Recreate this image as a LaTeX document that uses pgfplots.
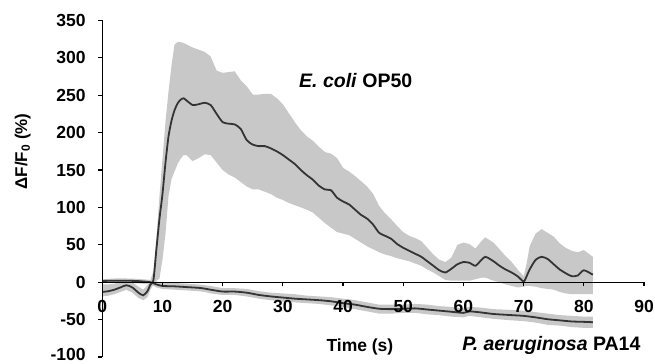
\documentclass[border=0pt]{standalone}
\usepackage{fontspec}
\setmainfont{Liberation Sans}
\usepackage{pgfplots}
\pgfplotsset{compat=1.18}
\usepackage{pgfplotstable}
\definecolor{bandgray}{RGB}{200,200,200}
\definecolor{linegray}{RGB}{52,52,52}

% E. coli mean
\pgfplotstableread{
t m
0 -13
1 -12
2 -10
3 -7
4 -4
5 -7
6 -14
6.8 -17.5
7.5 -12
8 -3
8.5 3
9 45
9.5 85
10 118
10.5 160
11 195
11.5 216
12 230
12.5 239
13 244
13.5 246
14 243
15 237
16 238
17 240
18 237
19 225
20 214
21 212
22 211
23 205
24 190
25 184
26 182
27 182
28 179
29 175
30 170
31 164
32 158
33 150
34 143
35 137
36 129
37 124
38 123
39 113
40 108
41 104
42 97
43 90
44 85
45 77
46 66
47 62
48 58
49 51
50 46
51 42
52 38
53 34
54 28
55 22
56 16
57 13
58 18
59 24
60 27
61 26
62 22
63 30
63.6 34
64 33
65 28
66 22
67 17
68 13
69 8
70 1
70.5 8
71 17
72 30
73 34
74 31
75 24
76 17
77 12
78 8
79 9
80 16
81.5 10
}\ecoli

% E. coli band: upper edge forward, lower edge back
\pgfplotstableread{
t v
0 -3
1 -3
2 -2
3 0
4 2
5 0
6 -6
6.8 -10
7.5 -4
8 3
8.5 15
9 60
9.5 115
10 165
10.5 215
11 255
11.5 290
12 318
12.5 321
13 321
13.5 320
14 318
15 314
16 311
17 308
18 302
19 283
20 280
21 281
22 282
23 270
24 262
25 251
26 251
27 252
28 252
29 246
30 238
31 226
32 214
33 203
34 195
35 189
36 181
37 174
38 172
39 166
40 153
41 148
42 142
43 135
44 128
45 118
46 102
47 92
48 84
49 75
50 67
51 62
52 59
53 55
54 46
55 37
56 30
57 27
58 33
59 50
60 53
61 51
62 45
63 55
63.6 60
64 58
65 53
66 44
67 35
68 27
69 17
70 8
70.5 25
71 48
72 65
73 71
74 66
75 61
76 52
77 46
78 42
79 40
80 43
81.5 34
81.5 -16
80 -16
79 -16
78 -16
77 -15
76 -13
75 -10
74 -9
73 -8
72 -6
71 -5
70.5 -5
70 -6
69 -7
68 -5
67 -3
66 0
65 2
64 5
63.6 6
63 6
62 4
61 2
60 2
59 2
58 2
57 3
56 8
55 13
54 17
53 22
52 25
51 28
50 30
49 32
48 35
47 37
46 40
45 44
44 48
43 53
42 58
41 63
40 65
39 67
38 73
37 79
36 86
35 93
34 97
33 100
32 103
31 106
30 110
29 113
28 118
27 121
26 124
25 124
24 128
23 134
22 140
21 144
20 150
19 160
18 170
17 171
16 166
15 162
14 170
13.5 170
13 165
12.5 158
12 148
11.5 138
11 115
10.5 65
10 30
9.5 5
9 2
8.5 -3
8 -10
7.5 -20
6.8 -24
6 -21
5 -14
4 -10
3 -13
2 -16
1 -18
0 -19
}\ecoliband

% P. aeruginosa mean
\pgfplotstableread{
t m
0 1.7
2 2
4 2
6 1.5
8 0
9 -3
10 -5
12 -5.5
14 -6.5
16 -7.5
17 -8.5
18 -10
20 -12.5
22 -12.5
24 -14
26 -17
28 -19
30 -20.5
32 -22
34 -23
36 -24
38 -25.5
40 -28
42 -30
44 -33
46 -35.5
48 -36
50 -35.5
52 -35
54 -36.5
56 -38
58 -39.5
60 -41
61 -39
63 -40.5
65 -42.5
68 -44
70 -45
72 -47
74 -49.5
76 -51
78 -52.5
80 -53
81.5 -53.5
}\pa

% P. aeruginosa band
\pgfplotstableread{
t v
0 4
2 5
4 5
6 4.5
8 3
9 1
10 -1
12 -1
14 -2
16 -3
17 -4
18 -5
20 -8
22 -8
24 -9
26 -12
28 -14
30 -15
32 -16
34 -18
36 -19
38 -20
40 -22
42 -24
44 -27
46 -30
48 -30
50 -30
52 -29
54 -30
56 -32
58 -33
60 -35
61 -33
63 -34
65 -36
68 -37
70 -38
72 -40
74 -42
76 -44
78 -45
80 -46
81.5 -46
81.5 -61
80 -61
78 -60
76 -58
74 -57
72 -54
70 -52
68 -51
65 -49
63 -47
61 -45
60 -47
58 -46
56 -44
54 -43
52 -41
50 -41
48 -42
46 -42
44 -39
42 -36
40 -33
38 -31
36 -29
34 -28
32 -27
30 -26
28 -24
26 -22
24 -19
22 -17
20 -17
18 -15
17 -13
16 -12
14 -11
12 -10
10 -9
9 -7
8 -3
6 -1.5
4 -1
2 -1
0 -1
}\paband

\begin{document}
\begin{tikzpicture}
\path[use as bounding box] (0bp,0bp) rectangle (655bp,364bp);
\begin{axis}[
  at={(102.3bp,7bp)}, anchor=south west,
  scale only axis, width=541.7bp, height=336.5bp,
  xmin=0, xmax=90, ymin=-100, ymax=350,
  axis lines=middle,
  axis line style={-, line width=1.2bp, black},
  axis on top,
  clip=false,
  xtick={0,10,...,90},
  ytick={-50,0,...,350},
  extra y ticks={-100},
  extra y tick style={yticklabel style={yshift=2.5bp}},
  hide obscured x ticks=false,
  hide obscured y ticks=false,
  tick align=outside,
  major tick length=4bp,
  tick style={line width=1.2bp, black},
  /pgf/number format/assume math mode=true,
  tick label style={font=\fontsize{17.5bp}{20bp}\selectfont\bfseries},
  xticklabel style={anchor=center, yshift=-20bp, inner sep=0pt},
  yticklabel style={anchor=east, xshift=-12.5bp, inner sep=0pt},
]
\addplot[fill=bandgray, draw=none] table[x=t, y=v]{\ecoliband} -- cycle;
\addplot[fill=bandgray, draw=none] table[x=t, y=v]{\paband} -- cycle;
\addplot[linegray, line width=1.8bp, smooth, tension=0.4] table[x=t, y=m]{\ecoli};
\addplot[linegray, line width=1.8bp, smooth, tension=0.4] table[x=t, y=m]{\pa};

\node[rotate=90, font=\fontsize{17bp}{20bp}\selectfont\bfseries] at (axis cs:-13.2,175) {ΔF/F\textsubscript{0} (\%)};
\node[font=\fontsize{17.5bp}{21bp}\selectfont\bfseries] at (axis cs:42.8,-87) {Time (s)};
\node[font=\fontsize{19.5bp}{22bp}\selectfont\bfseries] at (axis cs:42.1,269.6) {\textit{E. coli} OP50};
\node[font=\fontsize{19.5bp}{22bp}\selectfont\bfseries] at (axis cs:74.6,-84.6) {\textit{P. aeruginosa} PA14};
\end{axis}
\end{tikzpicture}
\end{document}
